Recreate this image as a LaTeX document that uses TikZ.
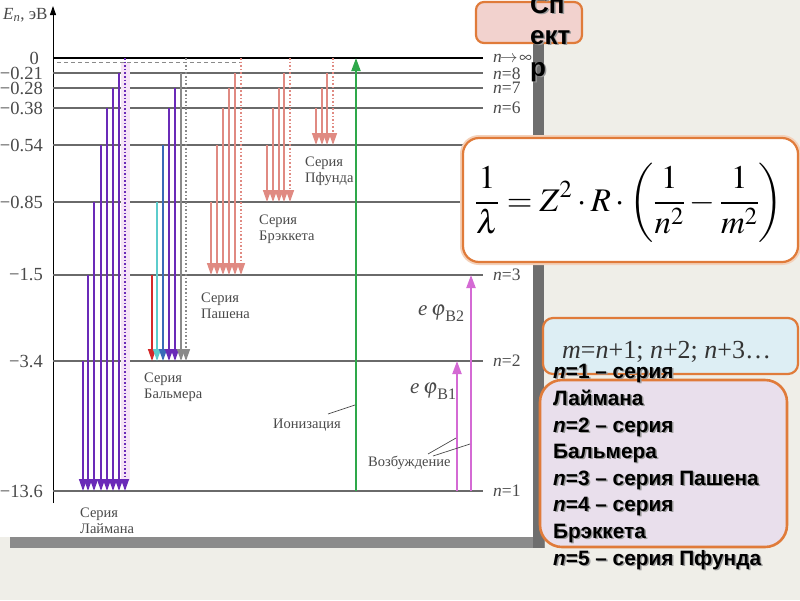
\documentclass[tikz,border=0pt]{standalone}
\usepackage{mathptmx}
\usepackage{fontspec}
\setmainfont{Liberation Serif}
\newfontfamily\arialf{Liberation Sans}
\usetikzlibrary{arrows.meta}
\definecolor{bgc}{HTML}{EFEEE8}
\definecolor{shc}{HTML}{6E6E6E}
\definecolor{lvlc}{HTML}{6A6A6A}
\definecolor{txtc}{HTML}{4A4A4A}
\definecolor{lyc}{HTML}{6A2AB8}
\definecolor{salc}{HTML}{E08A82}
\definecolor{grc}{HTML}{2EA84A}
\definecolor{pkc}{HTML}{D46AD4}
\definecolor{orc}{HTML}{E07B3A}
\definecolor{specc}{HTML}{F2D2CE}
\definecolor{mboxc}{HTML}{DDEEF4}
\definecolor{tboxc}{HTML}{E9DFEC}
\definecolor{redc}{HTML}{D42A2A}
\definecolor{cyc}{HTML}{5CCCCC}
\definecolor{blc}{HTML}{3A6AB8}
\definecolor{gyc}{HTML}{8A8A8A}
\definecolor{bandc}{HTML}{F6E4F6}
\newcommand\boxline[4]{%
  \node[tbtxt,text=black!40] at (#1+1.5,#2+1.5) {#4};
  \node[tbtxt] (#3) at (#1,#2) {#4};}
\begin{document}
\begin{tikzpicture}[x=1pt,y=-1pt,
  lvl/.style={draw=lvlc,line width=1.1pt},
  tr/.style={line width=1.4pt,-{Triangle[width=8pt,length=12pt]}},
  dtr/.style={line width=1.4pt,dash pattern=on 1.6pt off 2pt,-{Triangle[width=8pt,length=12pt]}},
  vlab/.style={anchor=east,font=\fontsize{18.5}{18.5}\selectfont,text=txtc,inner sep=0pt},
  nlab/.style={anchor=west,font=\fontsize{17.5}{17.5}\selectfont,text=txtc,inner sep=0pt},
  slab/.style={anchor=base west,font=\fontsize{14.5}{16}\selectfont,text=txtc,inner sep=0pt},
  tbtxt/.style={anchor=base west,font=\arialf\bfseries\fontsize{20.8}{21}\selectfont,inner sep=0pt},
  sptxt/.style={anchor=base west,font=\arialf\bfseries\fontsize{26}{26}\selectfont,inner sep=0pt},
  rbox/.style={draw=orc,line width=2.2pt}
]
\useasboundingbox (0,0) rectangle (800,600);
% background and panel
\fill[bgc] (0,0) rectangle (800,600);
\fill[shc!80] (10,536) rectangle (545,548);
\fill[shc] (533,0) rectangle (544,548);
\fill[white] (0,0) rectangle (533,537);
% axis
\draw[line width=1pt,-{Triangle[width=6pt,length=9pt]}] (53,503) -- (53,6);
\node[anchor=base west,inner sep=0pt,font=\fontsize{17}{17}\selectfont,text=txtc] (axl) at (3,19) {\textit{E}\textsubscript{\textit{n}}, эВ};
% levels
\foreach \y in {73,88,108,145,202,275,361,491} \draw[lvl] (53,\y) -- (483,\y);
\draw[black,line width=2.4pt] (53,58) -- (483,58);
\draw[gyc,line width=1.2pt,dash pattern=on 4pt off 3pt] (57,62.5) -- (240,62.5);
% value labels
\node[vlab] (v0) at (39,58) {0};
\node[vlab] (v1) at (43,73) {−0.21};
\node[vlab] (v2) at (43,88) {−0.28};
\node[vlab] (v3) at (43,108) {−0.38};
\node[vlab] (v4) at (43,145) {−0.54};
\node[vlab] (v5) at (43,202) {−0.85};
\node[vlab] (v6) at (43,275) {−1.5};
\node[vlab] (v7) at (43,361) {−3.4};
\node[vlab] (v8) at (43,491) {−13.6};
% n labels
\node[nlab] (ninf) at (493,58) {\textit{n}$\!\rightarrow\!\infty$};
\node[nlab] (n8) at (493,74) {\textit{n}=8};
\node[nlab] (n7) at (493,88) {\textit{n}=7};
\node[nlab] (n6) at (493,108) {\textit{n}=6};
\node[nlab] (n3) at (493,275) {\textit{n}=3};
\node[nlab] (n2) at (493,361) {\textit{n}=2};
\node[nlab] (n1) at (493,491) {\textit{n}=1};
% Lyman
\fill[bandc] (121,63) rectangle (130,480);
\foreach \x/\y in {83/361,88/275,94/202,101/145,107/108,113/88,119/73}
  \draw[tr,lyc] (\x,\y) -- (\x,491);
\draw[dtr,lyc] (125,58) -- (125,491);
% Balmer
\draw[tr,redc] (152,275) -- (152,361);
\draw[tr,cyc] (157,202) -- (157,361);
\draw[tr,blc] (163,145) -- (163,361);
\draw[tr,lyc] (169,108) -- (169,361);
\draw[tr,lyc] (175,88) -- (175,361);
\draw[tr,gyc] (181,73) -- (181,361);
\draw[dtr,gyc] (186,58) -- (186,361);
% Paschen
\foreach \x/\y in {211/202,217/145,223/108,229/88,235/73}
  \draw[tr,salc] (\x,\y) -- (\x,275);
\draw[dtr,salc] (241,58) -- (241,275);
% Brackett
\foreach \x/\y in {267/145,273/108,279/88,284/73}
  \draw[tr,salc] (\x,\y) -- (\x,202);
\draw[dtr,salc] (290,58) -- (290,202);
% Pfund
\foreach \x/\y in {316/108,322/88,327/73}
  \draw[tr,salc] (\x,\y) -- (\x,145);
\draw[dtr,salc] (333,58) -- (333,145);
% series labels
\node[slab] (ly1) at (80,517) {Серия};
\node[slab] (ly2) at (80,533) {Лаймана};
\node[slab] (ba1) at (144,382) {Серия};
\node[slab] (ba2) at (144,398) {Бальмера};
\node[slab] (pa1) at (201,302) {Серия};
\node[slab] (pa2) at (201,318) {Пашена};
\node[slab] (br1) at (259,224) {Серия};
\node[slab] (br2) at (259,240) {Брэккета};
\node[slab] (pf1) at (305,166) {Серия};
\node[slab] (pf2) at (305,182) {Пфунда};
% ionization and excitation
\draw[grc,line width=2pt,-{Triangle[width=9pt,length=13pt]}] (356,491) -- (356,58);
\draw[pkc,line width=2pt,-{Triangle[width=9pt,length=13pt]}] (457,491) -- (457,361);
\draw[pkc,line width=2pt,-{Triangle[width=9pt,length=13pt]}] (471,491) -- (471,275);
\node[slab] (ion) at (273,428) {Ионизация};
\node[slab] (exc) at (368,466) {Возбуждение};
\coordinate (ionp) at (355,405);
\coordinate (ex1) at (456,438);
\coordinate (ex2) at (470,444);
\draw[txtc,line width=0.7pt] (328,414) -- (ionp);
\draw[txtc,line width=0.7pt] (428,454) -- (ex1);
\draw[txtc,line width=0.7pt] (433,456) -- (ex2);
\node[anchor=base west,inner sep=0pt,text=txtc,font=\fontsize{21}{21}\selectfont] (ephi2) at (418,315) {\textit{e}\,$\varphi$\raisebox{-6pt}{\fontsize{16}{16}\selectfont В2}};
\node[anchor=base west,inner sep=0pt,text=txtc,font=\fontsize{21}{21}\selectfont] (ephi1) at (410,393) {\textit{e}\,$\varphi$\raisebox{-6pt}{\fontsize{16}{16}\selectfont В1}};
% Spectr box
\draw[rbox,fill=specc,rounded corners=8pt] (476,2) rectangle (582,43);
\node[sptxt,text=black!40] at (531.5,14.5) {Сп};
\node[sptxt,text=black!40] at (531.5,45.5) {ект};
\node[sptxt,text=black!40] at (531.5,77.5) {р};
\node[sptxt] (sp1) at (530,13) {Сп};
\node[sptxt] (sp2) at (530,44) {ект};
\node[sptxt] (sp3) at (530,76) {р};
% formula box
\draw[orc!35,line width=6pt,rounded corners=16pt] (463,138) rectangle (798,262);
\draw[rbox,fill=white,rounded corners=16pt] (463,138) rectangle (798,262);
\node (form) at (629,203) {\fontsize{33}{38}\selectfont $\displaystyle \frac{1}{\lambda}=Z^{2}\cdot R\cdot\left(\frac{1}{n^{2}}-\frac{1}{m^{2}}\right)$};
% m box
\draw[rbox,fill=mboxc,rounded corners=10pt] (543,318) rectangle (798,374);
\node[anchor=base west,inner sep=0pt,font=\fontsize{26}{26}\selectfont,text=black!80] (mline) at (562,358) {\textit{m}=\textit{n}+1; \textit{n}+2; \textit{n}+3…};
% text box
\draw[rbox,line width=2.6pt,fill=tboxc,rounded corners=22pt] (540,380) rectangle (787,547);
\boxline{553}{378}{t1}{\textit{n}=1 – серия}
\boxline{553}{405}{t2}{Лаймана}
\boxline{553}{432}{t3}{\textit{n}=2 – серия}
\boxline{553}{458}{t4}{Бальмера}
\boxline{553}{485}{t5}{\textit{n}=3 – серия Пашена}
\boxline{553}{511}{t6}{\textit{n}=4 – серия}
\boxline{553}{538}{t7}{Брэккета}
\boxline{553}{565}{t8}{\textit{n}=5 – серия Пфунда}
\end{tikzpicture}
\end{document}
